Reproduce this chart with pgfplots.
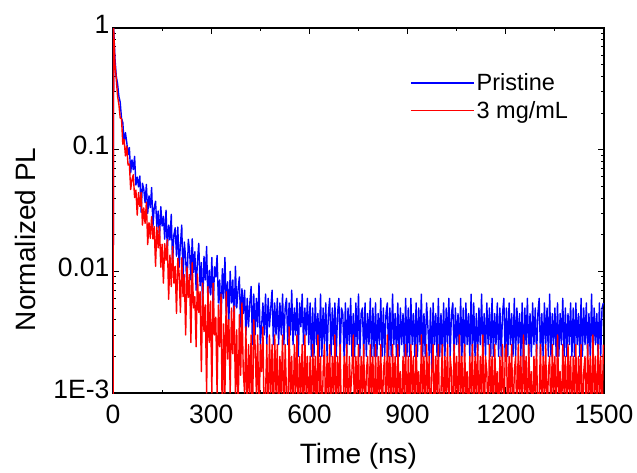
\documentclass[border=0pt]{standalone}
\usepackage{fontspec}
\setmainfont{Liberation Sans}
\usepackage{pgfplots}
\usepackage{pgfplotstable}
\pgfplotsset{compat=1.18}
\pgfplotstableread{
t b r
0 0.0005 0.0005
2 1 1
6 0.564 0.502
10 0.404 0.378
14 0.348 0.275
18 0.274 0.235
22 0.246 0.182
26 0.181 0.180
30 0.167 0.111
34 0.115 0.1216
38 0.138 0.0888
42 0.115 0.1071
46 0.0909 0.0747
50 0.104 0.0762
54 0.0646 0.0471
58 0.0824 0.0567
62 0.0685 0.0622
66 0.0881 0.0404
70 0.0512 0.0465
74 0.0595 0.0290
78 0.0495 0.0444
82 0.0608 0.0342
86 0.0306 0.0444
90 0.0530 0.0240
94 0.0475 0.0332
98 0.0366 0.0248
102 0.0518 0.0370
106 0.0299 0.0166
110 0.0417 0.0252
114 0.0334 0.0187
118 0.0488 0.0281
122 0.0235 0.0185
126 0.0336 0.0233
130 0.0377 0.0110
134 0.0233 0.0231
138 0.0313 0.0156
142 0.0185 0.0234
146 0.0340 0.0108
150 0.0236 0.0167
154 0.0283 0.0080
158 0.0184 0.0169
162 0.0318 0.0123
166 0.0150 0.0182
170 0.0240 0.0059
174 0.0181 0.0136
178 0.0294 0.0075
182 0.0115 0.0160
186 0.0199 0.0080
190 0.0228 0.0110
194 0.0133 0.0045
198 0.0231 0.0128
202 0.0108 0.0095
206 0.0166 0.0046
210 0.0240 0.0129
214 0.0086 0.0062
218 0.0174 0.0094
222 0.0128 0.0030
226 0.0070 0.0109
230 0.0183 0.0061
234 0.0148 0.0094
238 0.0085 0.0026
242 0.0185 0.0118
246 0.0098 0.0050
250 0.0145 0.0062
254 0.0070 0.0024
258 0.0120 0.0095
262 0.0170 0.0046
266 0.0076 0.0068
270 0.0118 0.0015
274 0.0050 0.0080
278 0.0133 0.0032
282 0.0085 0.0053
286 0.0160 0.0010
290 0.0055 0.0075
294 0.0102 0.0026
298 0.0064 0.0057
302 0.0130 0.0010
306 0.0045 0.0080
310 0.0109 0.0030
314 0.0090 0.0042
318 0.0135 0.0010
322 0.0055 0.0053
326 0.0085 0.0024
330 0.0035 0.0065
334 0.0105 0.0005
338 0.0060 0.0037
342 0.0130 0.0010
346 0.0045 0.0068
350 0.0082 0.0019
354 0.0040 0.0040
358 0.0100 0.0010
362 0.0055 0.0050
366 0.0085 0.0021
370 0.0035 0.0052
374 0.0110 0.0010
378 0.0050 0.0033
382 0.0070 0.0005
386 0.0090 0.0044
390 0.0035 0.0014
394 0.0072 0.0055
398 0.0045 0.0015
402 0.0070 0.0010
406 0.0030 0.0035
410 0.0060 0.0005
414 0.0035 0.0025
418 0.0055 0.0010
422 0.0075 0.0030
426 0.0025 0.0005
430 0.0065 0.0040
434 0.0030 0.0025
438 0.0060 0.0010
442 0.0035 0.0030
446 0.0080 0.0005
450 0.0025 0.0025
454 0.0035 0.0015
458 0.0055 0.0035
462 0.0030 0.0005
466 0.0065 0.0010
470 0.0025 0.0025
474 0.0060 0.0005
478 0.0035 0.0030
482 0.0050 0.0010
486 0.0070 0.0025
490 0.0025 0.0005
494 0.0055 0.0030
498 0.0030 0.0010
502 0.0060 0.0025
506 0.0025 0.0005
510 0.0055 0.0020
514 0.0030 0.0010
518 0.0065 0.0030
522 0.0025 0.0005
526 0.0050 0.0025
530 0.0060 0.0010
534 0.0025 0.0005
538 0.0055 0.0035
542 0.0030 0.0010
546 0.0070 0.0020
550 0.0025 0.0005
554 0.0050 0.0025
558 0.0030 0.0010
562 0.0060 0.0030
566 0.0020 0.0005
570 0.0055 0.0020
574 0.0035 0.0010
578 0.0065 0.0025
582 0.0025 0.0005
586 0.0050 0.0030
590 0.0030 0.0010
594 0.0060 0.0020
598 0.0025 0.0005
602 0.0055 0.0020
606 0.0020 0.0005
610 0.0050 0.0025
614 0.0020 0.0010
618 0.0060 0.0020
622 0.0025 0.0005
626 0.0045 0.0030
630 0.0020 0.0010
634 0.0065 0.0020
638 0.0020 0.0005
642 0.0050 0.0015
646 0.0025 0.0025
650 0.0055 0.0005
654 0.0020 0.0020
658 0.0045 0.0010
662 0.0060 0.0025
666 0.0020 0.0005
670 0.0050 0.0020
674 0.0025 0.0010
678 0.0055 0.0030
682 0.0020 0.0005
686 0.0045 0.0020
690 0.0060 0.0010
694 0.0020 0.0025
698 0.0050 0.0005
702 0.0045 0.0005
706 0.0020 0.0020
710 0.0055 0.0010
714 0.0020 0.0025
718 0.0050 0.0005
722 0.0025 0.0020
726 0.0060 0.0010
730 0.0020 0.0015
734 0.0045 0.0030
738 0.0020 0.0005
742 0.0055 0.0020
746 0.0025 0.0010
750 0.0065 0.0025
754 0.0020 0.0005
758 0.0045 0.0020
762 0.0050 0.0010
766 0.0020 0.0025
770 0.0055 0.0005
774 0.0020 0.0015
778 0.0045 0.0020
782 0.0025 0.0005
786 0.0060 0.0025
790 0.0020 0.0010
794 0.0050 0.0020
798 0.0020 0.0005
802 0.0055 0.0025
806 0.0020 0.0005
810 0.0045 0.0020
814 0.0025 0.0010
818 0.0060 0.0025
822 0.0020 0.0005
826 0.0050 0.0015
830 0.0020 0.0020
834 0.0045 0.0005
838 0.0055 0.0030
842 0.0020 0.0010
846 0.0050 0.0020
850 0.0020 0.0005
854 0.0065 0.0025
858 0.0025 0.0010
862 0.0045 0.0020
866 0.0020 0.0005
870 0.0055 0.0025
874 0.0020 0.0010
878 0.0050 0.0015
882 0.0025 0.0005
886 0.0045 0.0020
890 0.0020 0.0010
894 0.0060 0.0025
898 0.0020 0.0005
902 0.0050 0.0020
906 0.0020 0.0005
910 0.0060 0.0025
914 0.0025 0.0010
918 0.0045 0.0020
922 0.0020 0.0005
926 0.0055 0.0025
930 0.0020 0.0010
934 0.0050 0.0015
938 0.0025 0.0005
942 0.0065 0.0030
946 0.0020 0.0010
950 0.0045 0.0020
954 0.0020 0.0005
958 0.0055 0.0025
962 0.0035 0.0010
966 0.0020 0.0020
970 0.0050 0.0005
974 0.0015 0.0015
978 0.0055 0.0025
982 0.0025 0.0005
986 0.0045 0.0020
990 0.0020 0.0010
994 0.0060 0.0025
998 0.0020 0.0005
1002 0.0045 0.0010
1006 0.0020 0.0025
1010 0.0055 0.0005
1014 0.0020 0.0020
1018 0.0050 0.0010
1022 0.0025 0.0025
1026 0.0060 0.0005
1030 0.0020 0.0020
1034 0.0045 0.0015
1038 0.0055 0.0005
1042 0.0020 0.0025
1046 0.0050 0.0010
1050 0.0025 0.0020
1054 0.0045 0.0005
1058 0.0020 0.0030
1062 0.0060 0.0010
1066 0.0020 0.0020
1070 0.0050 0.0005
1074 0.0020 0.0025
1078 0.0055 0.0010
1082 0.0025 0.0015
1086 0.0045 0.0005
1090 0.0020 0.0020
1094 0.0065 0.0010
1098 0.0020 0.0025
1102 0.0055 0.0005
1106 0.0020 0.0020
1110 0.0045 0.0010
1114 0.0020 0.0025
1118 0.0050 0.0005
1122 0.0025 0.0020
1126 0.0065 0.0010
1130 0.0020 0.0030
1134 0.0045 0.0005
1138 0.0020 0.0020
1142 0.0055 0.0015
1146 0.0025 0.0005
1150 0.0050 0.0025
1154 0.0020 0.0010
1158 0.0060 0.0020
1162 0.0020 0.0005
1166 0.0045 0.0025
1170 0.0025 0.0010
1174 0.0055 0.0015
1178 0.0020 0.0005
1182 0.0050 0.0020
1186 0.0020 0.0010
1190 0.0045 0.0025
1194 0.0060 0.0005
1198 0.0020 0.0020
1202 0.0050 0.0025
1206 0.0020 0.0005
1210 0.0055 0.0020
1214 0.0025 0.0010
1218 0.0045 0.0025
1222 0.0020 0.0005
1226 0.0060 0.0015
1230 0.0020 0.0020
1234 0.0050 0.0005
1238 0.0025 0.0025
1242 0.0045 0.0010
1246 0.0020 0.0020
1250 0.0055 0.0005
1254 0.0015 0.0030
1258 0.0050 0.0010
1262 0.0025 0.0020
1266 0.0060 0.0005
1270 0.0020 0.0025
1274 0.0045 0.0010
1278 0.0020 0.0015
1282 0.0055 0.0005
1286 0.0025 0.0020
1290 0.0050 0.0010
1294 0.0020 0.0025
1298 0.0045 0.0005
1302 0.0060 0.0010
1306 0.0020 0.0025
1310 0.0045 0.0005
1314 0.0020 0.0020
1318 0.0055 0.0010
1322 0.0025 0.0025
1326 0.0050 0.0005
1330 0.0020 0.0015
1334 0.0065 0.0020
1338 0.0020 0.0005
1342 0.0045 0.0025
1346 0.0025 0.0010
1350 0.0050 0.0020
1354 0.0020 0.0005
1358 0.0055 0.0030
1362 0.0020 0.0010
1366 0.0045 0.0015
1370 0.0025 0.0005
1374 0.0060 0.0025
1378 0.0020 0.0010
1382 0.0050 0.0020
1386 0.0020 0.0005
1390 0.0045 0.0025
1394 0.0025 0.0010
1398 0.0055 0.0020
1402 0.0020 0.0005
1406 0.0050 0.0020
1410 0.0020 0.0010
1414 0.0055 0.0025
1418 0.0025 0.0005
1422 0.0045 0.0020
1426 0.0020 0.0010
1430 0.0060 0.0025
1434 0.0020 0.0005
1438 0.0050 0.0015
1442 0.0025 0.0020
1446 0.0055 0.0005
1450 0.0020 0.0025
1454 0.0045 0.0010
1458 0.0020 0.0020
1462 0.0065 0.0005
1466 0.0020 0.0030
1470 0.0050 0.0010
1474 0.0025 0.0020
1478 0.0045 0.0005
1482 0.0020 0.0025
1486 0.0055 0.0010
1490 0.0020 0.0020
1494 0.0050 0.0005
1498 0.0055 0.0025
}\tabledata
\begin{document}
\begin{tikzpicture}
\begin{axis}[
  name=ax,
  scale only axis,
  width=491pt, height=365pt,
  xmin=0, xmax=1500,
  ymode=log, ymin=0.001, ymax=1,
  xtick={0,300,600,900,1200,1500},
  minor x tick num=1,
  ytick={0.001,0.01,0.1,1},
  yticklabels={1E-3,0.01,0.1,1},
  minor ytick={0.002,0.003,0.004,0.005,0.006,0.007,0.008,0.009,0.02,0.03,0.04,0.05,0.06,0.07,0.08,0.09,0.2,0.3,0.4,0.5,0.6,0.7,0.8,0.9},
  tick align=inside,
  major tick length=6pt,
  minor tick length=3.5pt,
  every tick/.style={black, line width=0.9pt},
  axis line style={black, line width=1.3pt},
  /pgf/number format/assume math mode=true,
  /pgf/number format/1000 sep={},
  tick label style={font=\fontsize{26.5}{31}\selectfont},
  xticklabel style={anchor=base, yshift=-30pt},
  yticklabel style={yshift=4pt},
  xlabel={Time (ns)},
  ylabel={Normalized PL},
  label style={font=\fontsize{28}{33}\selectfont},
  xlabel style={at={(axis description cs:0.5,-0.1918)}, anchor=base},
  ylabel style={at={(axis description cs:-0.1996,0.421)}, anchor=north, inner sep=0pt},
  legend style={at={(axis description cs:0.605,0.881)}, anchor=north west, draw=none, fill=none,
    font=\fontsize{23.5}{28}\selectfont, row sep=5pt, inner sep=0pt, cells={anchor=west}},
  legend image code/.code={\draw[#1, line width=0.6pt] (0pt,0pt) -- (52pt,0pt); \path (0pt,0pt) -- (63pt,0pt);},
]
\addplot[blue, line width=1.4pt, line join=round, mark=none] table[x=t, y=b] {\tabledata};
\addlegendentry{Pristine}
\addplot[red, line width=1.4pt, line join=round, mark=none] table[x=t, y=r] {\tabledata};
\addlegendentry{3 mg/mL}
\end{axis}
\path ([xshift=-113pt,yshift=-79pt]ax.south west) rectangle ([xshift=33pt,yshift=28pt]ax.north east);
\end{tikzpicture}
\end{document}
